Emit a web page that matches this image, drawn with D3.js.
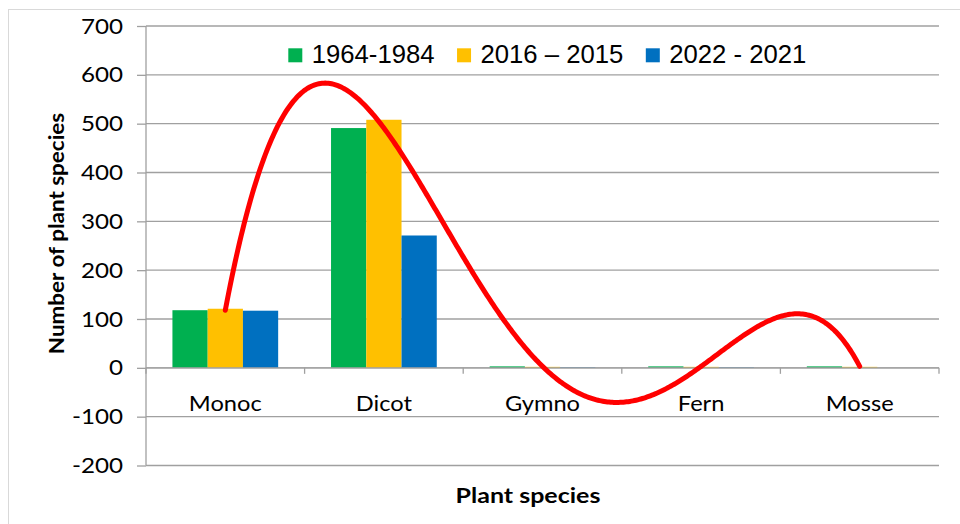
<!DOCTYPE html>
<html>
<head>
<meta charset="utf-8">
<script src="https://cdn.jsdelivr.net/npm/d3@7"></script>
<style>
  html, body { margin: 0; padding: 0; background: #fff; }
  svg { display: block; }
</style>
</head>
<body>
<svg id="chart" width="960" height="524"></svg>
<script>
// ---- data ----
const categories = ["Monoc", "Dicot", "Gymno", "Fern", "Mosse"];
const seriesNames = ["1964-1984", "2016 \u2013 2015", "2022 - 2021"];
const s1964 = [118, 491, 3, 3, 3];
const s2016 = [121, 508, 2, 2, 2];
const s2022 = [117, 271, 1, 1, 0];
const yTicks = [-200, -100, 0, 100, 200, 300, 400, 500, 600, 700];
const trendOrder = 4; // polynomial trendline on the "1964-1984" series

// ---- styles ----
const colors = ["#00B050", "#FFC000", "#0070C0"];
const gridColor = "#A0A0A0";
const font = "Lato, 'Open Sans', sans-serif";
const legendFont = "'Liberation Sans', Arial, sans-serif";

const svg = d3.select("#chart");
const W = 960, H = 524;
const plot = { left: 146, right: 939, top: 26, bottom: 465.5 };

// outer chart border
svg.append("rect").attr("x", 8.5).attr("y", 9.5).attr("width", W).attr("height", H)
  .attr("fill", "#fff").attr("stroke", "#D9D9D9").attr("stroke-width", 1);

const x = d3.scaleBand().domain(categories).range([plot.left, plot.right]).paddingInner(0).paddingOuter(0);
const y = d3.scaleLinear().domain([-200, 700]).range([plot.bottom, plot.top]);
const groupW = x.bandwidth() * 2 / 3;
const xs = d3.scaleBand().domain(d3.range(seriesNames.length)).range([0, groupW]).padding(0);

// gridlines
svg.append("g").selectAll("line").data(yTicks).join("line")
  .attr("x1", plot.left).attr("x2", plot.right)
  .attr("y1", d => y(d)).attr("y2", d => y(d))
  .attr("stroke", gridColor).attr("stroke-width", 1.3);

// y axis
const yAxis = svg.append("g").attr("transform", `translate(${plot.left},0)`)
  .call(d3.axisLeft(y).tickValues(yTicks).tickSize(9).tickFormat(d3.format("d")));
yAxis.select(".domain").attr("stroke", gridColor).attr("stroke-width", 1.3)
  .attr("d", `M0,${plot.top}V${plot.bottom}`);
yAxis.selectAll(".tick line").attr("stroke", gridColor).attr("stroke-width", 1.3);
yAxis.selectAll(".tick text").remove();
yAxis.selectAll(".tick").append("text")
  .attr("transform", "translate(-23,7) scale(1.18,1)")
  .attr("text-anchor", "end")
  .style("font-family", font).style("font-size", "20.5px").attr("fill", "#000")
  .text(d => d);

// bars
const seriesData = [s1964, s2016, s2022];
const rows = [];
categories.forEach((c, i) => seriesData.forEach((s, j) => rows.push({ c, j, v: s[i] })));
svg.append("g").selectAll("rect").data(rows).join("rect")
  .attr("x", d => x(d.c) + (x.bandwidth() - groupW) / 2 + xs(d.j))
  .attr("width", xs.bandwidth())
  .attr("y", d => y(Math.max(0, d.v)))
  .attr("height", d => Math.abs(y(d.v) - y(0)))
  .attr("fill", d => colors[d.j]);

// zero (category) axis
const xAxis = svg.append("g").attr("transform", `translate(0,${y(0)})`)
  .call(d3.axisBottom(x).tickSize(0).tickFormat(""));
xAxis.select(".domain").attr("stroke", gridColor).attr("stroke-width", 1.3)
  .attr("d", `M${plot.left},0H${plot.right}`);
xAxis.selectAll(".tick").remove();
const bounds = categories.map(c => x(c)).concat([plot.right]);
xAxis.selectAll("line.bt").data(bounds).join("line").attr("class", "bt")
  .attr("x1", d => d).attr("x2", d => d).attr("y1", 0).attr("y2", 6)
  .attr("stroke", gridColor).attr("stroke-width", 1.3);

// category labels (below plot, like Excel's low position)
svg.append("g").selectAll("text").data(categories).join("text")
  .attr("transform", d => `translate(${x(d) + x.bandwidth() / 2},411) scale(1.1,1)`)
  .attr("text-anchor", "middle")
  .style("font-family", font).style("font-size", "21.5px").attr("fill", "#000")
  .text(d => d);

// polynomial trendline (least squares, order 4) on the 1964-1984 series
function polyfit(xv, yv, order) {
  const n = order + 1;
  const A = Array.from({ length: n }, () => new Array(n + 1).fill(0));
  for (let r = 0; r < n; r++) {
    for (let c = 0; c < n; c++) A[r][c] = d3.sum(xv, xi => Math.pow(xi, r + c));
    A[r][n] = d3.sum(xv.map((xi, k) => Math.pow(xi, r) * yv[k]));
  }
  for (let i = 0; i < n; i++) {
    let p = i;
    for (let k = i + 1; k < n; k++) if (Math.abs(A[k][i]) > Math.abs(A[p][i])) p = k;
    [A[i], A[p]] = [A[p], A[i]];
    for (let k = 0; k < n; k++) {
      if (k === i) continue;
      const f = A[k][i] / A[i][i];
      for (let c = i; c <= n; c++) A[k][c] -= f * A[i][c];
    }
  }
  return A.map((row, i) => row[n] / row[i]);
}
const xIdx = categories.map((_, i) => i + 1);
const coef = polyfit(xIdx, s1964, trendOrder);
const evalPoly = t => coef.reduce((s, c, k) => s + c * Math.pow(t, k), 0);
const tToX = d3.scaleLinear().domain([1, categories.length])
  .range([x(categories[0]) + x.bandwidth() / 2, x(categories[categories.length - 1]) + x.bandwidth() / 2]);
const trendPts = d3.range(0, 401).map(k => 1 + k * (categories.length - 1) / 400);
svg.append("path").datum(trendPts)
  .attr("d", d3.line().x(t => tToX(t)).y(t => y(evalPoly(t))))
  .attr("fill", "none").attr("stroke", "#FF0000").attr("stroke-width", 5)
  .attr("stroke-linecap", "round");

// axis titles
svg.append("text")
  .attr("transform", "translate(64,233.5) rotate(-90) scale(1.07,1)")
  .attr("text-anchor", "middle")
  .style("font-family", font).style("font-size", "21px").style("font-weight", "bold")
  .text("Number of plant species");
svg.append("text")
  .attr("transform", "translate(528,503) scale(1.25,1)")
  .attr("text-anchor", "middle")
  .style("font-family", font).style("font-size", "20px").style("font-weight", "bold")
  .text("Plant species");

// legend
const legend = svg.append("g");
let cursor = 288.3;
seriesNames.forEach((name, i) => {
  legend.append("rect").attr("x", cursor).attr("y", 48.3).attr("width", 14).attr("height", 14)
    .attr("fill", colors[i]);
  const t = legend.append("text").attr("x", cursor + 23.4).attr("y", 62.7)
    .style("font-family", legendFont).style("font-size", "25.7px").attr("fill", "#000")
    .text(name);
  cursor = cursor + 23.4 + t.node().getComputedTextLength() + 22.5;
});
</script>
</body>
</html>
